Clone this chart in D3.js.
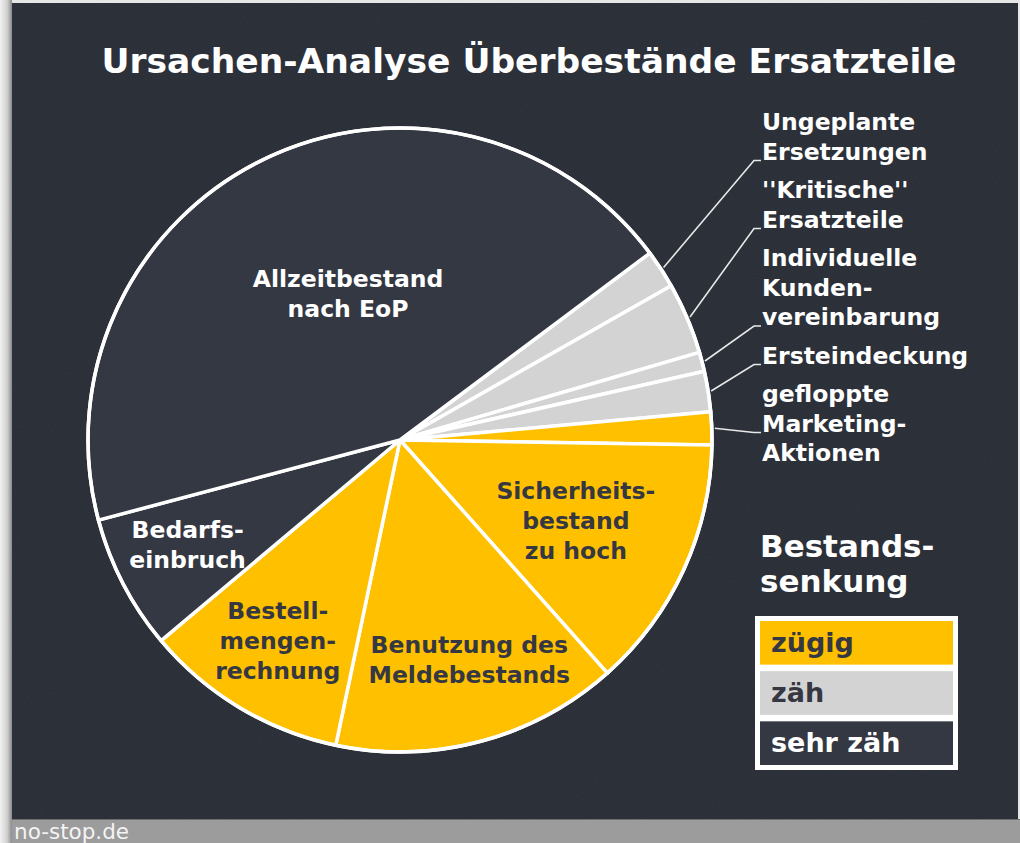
<!DOCTYPE html>
<html>
<head>
<meta charset="utf-8">
<script src="https://cdn.jsdelivr.net/npm/d3@7"></script>
<style>
  html, body { margin: 0; padding: 0; background: #d9d9d9; }
  svg { display: block; font-family: "DejaVu Sans", Verdana, sans-serif; }
</style>
</head>
<body>
<div id="chart"></div>
<script>
// Ursachen (im Uhrzeigersinn, beginnend oben rechts)
const causes = [
    "Ungeplante Ersetzungen",
    "Kritische Ersatzteile",
    "Individuelle Kundenvereinbarung",
    "Ersteindeckung",
    "gefloppte Marketing-Aktionen",
    "Sicherheitsbestand zu hoch",
    "Benutzung des Meldebestands",
    "Bestellmengenrechnung",
    "Bedarfseinbruch",
    "Allzeitbestand nach EoP"
];
// Anteil in % (aus dem Bild geschätzt)
const shares = [2.0, 3.7, 1.0, 2.1, 1.7, 13.2, 14.9, 10.6, 7.0, 44.0];
const reduction = ["zäh", "zäh", "zäh", "zäh", "zügig", "zügig", "zügig", "zügig", "sehr zäh", "sehr zäh"];
const labelLines = [
    ["Ungeplante", "Ersetzungen"],
    ["''Kritische''", "Ersatzteile"],
    ["Individuelle", "Kunden-", "vereinbarung"],
    ["Ersteindeckung"],
    ["gefloppte", "Marketing-", "Aktionen"],
    ["Sicherheits-", "bestand", "zu hoch"],
    ["Benutzung des", "Meldebestands"],
    ["Bestell-", "mengen-", "rechnung"],
    ["Bedarfs-", "einbruch"],
    ["Allzeitbestand", "nach EoP"]
];
const levels = ["zügig", "zäh", "sehr zäh"];
const legendTitle = ["Bestands-", "senkung"];
const title = "Ursachen-Analyse Überbestände Ersatzteile";
const source = "no-stop.de";

const W = 1020, H = 843;
const cx = 400, cy = 440, R = 312;
const startDeg = 53.2;

const color = d3.scaleOrdinal().domain(levels).range(["#ffc000", "#d3d3d3", "#343843"]);
const textColor = d3.scaleOrdinal().domain(levels).range(["#353842", "#353842", "#ffffff"]);

// label tweaks for the inner labels: radius factor and small nudge
const innerLayout = {
    "Sicherheitsbestand zu hoch": { k: 0.62, dx: 0, dy: 0 },
    "Benutzung des Meldebestands": { k: 0.74, dx: 10, dy: -3 },
    "Bestellmengenrechnung": { k: 0.75, dx: -2, dy: 0 },
    "Bedarfseinbruch": { k: 0.76, dx: -2, dy: -4 },
    "Allzeitbestand nach EoP": { k: 0.50, dx: 16, dy: -6 }
};
// which line of an outer label the leader line points to
const anchorLine = [1, 1, 2, 0, 1];

const svg = d3.select("#chart").append("svg")
    .attr("width", W)
    .attr("height", H);

const defs = svg.append("defs");
const grad = defs.append("linearGradient").attr("id", "edge").attr("x1", 0).attr("x2", 1);
grad.append("stop").attr("offset", 0).attr("stop-color", "#f2f2f2");
grad.append("stop").attr("offset", 0.6).attr("stop-color", "#d0d0d0");
grad.append("stop").attr("offset", 1).attr("stop-color", "#8a8a8a");

const noise = defs.append("filter").attr("id", "noise").attr("x", 0).attr("y", 0).attr("width", "100%").attr("height", "100%");
noise.append("feTurbulence").attr("type", "fractalNoise").attr("baseFrequency", 0.9).attr("numOctaves", 2).attr("seed", 3);
noise.append("feColorMatrix").attr("type", "matrix")
    .attr("values", "0 0 0 0 1  0 0 0 0 1  0 0 0 0 1  0 0 0 0.04 0");

// frame
svg.append("rect").attr("width", W).attr("height", H).attr("fill", "#e6e6e6");
svg.append("rect").attr("x", 0).attr("y", 0).attr("width", 12).attr("height", H).attr("fill", "url(#edge)");
svg.append("rect").attr("x", 12).attr("y", 3).attr("width", W - 14).attr("height", 816).attr("fill", "#282c35");
svg.append("rect").attr("x", 12).attr("y", 3).attr("width", W - 14).attr("height", 816).attr("filter", "url(#noise)");
svg.append("rect").attr("x", 12).attr("y", 819).attr("width", W - 12).attr("height", H - 819).attr("fill", "#9c9c9c");
svg.append("line").attr("x1", 12).attr("x2", W).attr("y1", 819.5).attr("y2", 819.5).attr("stroke", "#6e6e6e");

svg.append("text")
    .attr("x", 14)
    .attr("y", 839)
    .attr("fill", "#f4f4f4")
    .style("font-size", "21.5px")
    .text(source);

// title
svg.append("text")
    .attr("x", 529)
    .attr("y", 73)
    .attr("text-anchor", "middle")
    .attr("fill", "#ffffff")
    .style("font-size", "34.5px")
    .style("font-weight", "bold")
    .text(title);

// pie
const data = causes.map((c, i) => ({ cause: c, share: shares[i], level: reduction[i], lines: labelLines[i], idx: i }));

const pie = d3.pie()
    .sort(null)
    .value(d => d.share)
    .startAngle(startDeg * Math.PI / 180)
    .endAngle(startDeg * Math.PI / 180 + 2 * Math.PI);

const arcs = pie(data);
const arc = d3.arc().innerRadius(0).outerRadius(R);

const g = svg.append("g").attr("transform", `translate(${cx},${cy})`);

g.selectAll("path.slice")
    .data(arcs)
    .enter().append("path")
    .attr("class", "slice")
    .attr("d", arc)
    .attr("fill", d => color(d.data.level))
    .attr("stroke", "#ffffff")
    .attr("stroke-width", 3.5)
    .attr("stroke-linejoin", "round");

g.append("circle")
    .attr("r", R)
    .attr("fill", "none")
    .attr("stroke", "#ffffff")
    .attr("stroke-width", 3.5);

// inner labels
const inner = arcs.filter(d => d.data.share >= 5);
inner.forEach(d => {
    const lay = innerLayout[d.data.cause];
    const c = d3.arc().innerRadius(R * lay.k).outerRadius(R * lay.k).centroid(d);
    const n = d.data.lines.length;
    const t = g.append("text")
        .attr("text-anchor", "middle")
        .attr("fill", textColor(d.data.level))
        .style("font-size", "23.5px")
        .style("font-weight", "bold");
    d.data.lines.forEach((line, j) => {
        t.append("tspan")
            .attr("x", c[0] + lay.dx)
            .attr("y", c[1] + lay.dy - (n - 1) * 15 + 8 + j * 30)
            .text(line);
    });
});

// outer labels with leader lines
const outer = arcs.filter(d => d.data.share < 5);
const labelX = 762, lineH = 29.5, groupGap = 9;
let y0 = 130;
const edgeArc = d3.arc().innerRadius(R + 3).outerRadius(R + 3);
outer.forEach((d, i) => {
    const lines = d.data.lines;
    const t = svg.append("text")
        .attr("fill", "#ffffff")
        .style("font-size", "23.5px")
        .style("font-weight", "bold");
    lines.forEach((line, j) => {
        t.append("tspan")
            .attr("x", labelX)
            .attr("y", y0 + j * lineH)
            .text(line);
    });
    const ay = y0 + anchorLine[i] * lineH + 1;
    const p = edgeArc.centroid(d);
    svg.append("polyline")
        .attr("points", [[cx + p[0], cy + p[1]], [labelX - 8, ay], [labelX - 1, ay]].map(q => q.join(",")).join(" "))
        .attr("fill", "none")
        .attr("stroke", "#e8e8e8")
        .attr("stroke-width", 1.6);
    y0 += lines.length * lineH + groupGap;
});

// legend
const lg = svg.append("g").attr("transform", "translate(755,616)");
svg.append("text")
    .attr("fill", "#ffffff")
    .style("font-size", "31px")
    .style("font-weight", "bold")
    .selectAll("tspan")
    .data(legendTitle)
    .enter().append("tspan")
    .attr("x", 760)
    .attr("y", (d, i) => 557 + i * 35)
    .text(d => d);

lg.append("rect")
    .attr("width", 203)
    .attr("height", 154)
    .attr("fill", "#ffffff");

const rowY = d3.scaleBand().domain(levels).range([5, 149]).paddingInner(0.13);

lg.selectAll("rect.row")
    .data(levels)
    .enter().append("rect")
    .attr("class", "row")
    .attr("x", 5)
    .attr("y", d => rowY(d))
    .attr("width", 193)
    .attr("height", rowY.bandwidth())
    .attr("fill", d => color(d));

lg.selectAll("text.row")
    .data(levels)
    .enter().append("text")
    .attr("class", "row")
    .attr("x", 16)
    .attr("y", d => rowY(d) + 31)
    .attr("fill", d => textColor(d))
    .style("font-size", "27px")
    .style("font-weight", "bold")
    .text(d => d);
</script>
</body>
</html>
